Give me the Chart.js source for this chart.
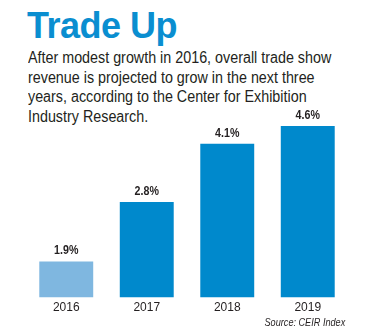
<!DOCTYPE html>
<html>
<head>
<meta charset="utf-8">
<script src="https://cdn.jsdelivr.net/npm/chart.js@4"></script>
<style>
  html, body { margin: 0; padding: 0; background: #fff; }
  body { width: 368px; height: 332px; position: relative; overflow: hidden; font-family: "Liberation Sans", sans-serif; }
  .title { position: absolute; left: 27px; top: 8px; font: bold 36px/36px "Liberation Sans", sans-serif; color: #0a8ed0; letter-spacing: -0.5px; }
  .dek { position: absolute; left: 28px; top: 48px; font-size: 16px; line-height: 19.5px; color: #231f20; white-space: nowrap; transform: scaleX(0.895); transform-origin: 0 0; }
  .source { position: absolute; right: 23px; top: 316px; font-size: 11px; font-style: italic; color: #231f20; transform: scaleX(0.83); transform-origin: 100% 0; }
  #chart-wrap { position: absolute; left: 0; top: 100px; width: 368px; height: 218px; }
</style>
</head>
<body>
<div class="title">Trade Up</div>
<div class="dek">After modest growth in 2016, overall trade show<br>revenue is projected to grow in the next three<br>years, according to the Center for Exhibition<br>Industry Research.</div>
<div id="chart-wrap"><canvas id="chart-trade"></canvas></div>
<div class="source">Source: CEIR Index</div>
<script>
const years = ['2016', '2017', '2018', '2019'];
const growth = [1.9, 2.8, 4.1, 4.6];
const barColors = ['#7fb7e0', '#0089cc', '#0089cc', '#0089cc'];

// percent labels sitting just above each bar, squeezed a little to look condensed
const valueLabels = {
  id: 'valueLabels',
  afterDatasetsDraw(chart) {
    const { ctx } = chart;
    const meta = chart.getDatasetMeta(0);
    meta.data.forEach((bar, i) => {
      ctx.save();
      ctx.translate(bar.x, bar.y - 4);
      ctx.scale(0.82, 1);
      ctx.font = 'bold 13px "Liberation Sans", sans-serif';
      ctx.fillStyle = '#231f20';
      ctx.textAlign = 'center';
      ctx.textBaseline = 'bottom';
      ctx.fillText(growth[i].toFixed(1) + '%', 0, 0);
      ctx.restore();
    });
  },
};

new Chart(document.getElementById('chart-trade'), {
  type: 'bar',
  data: {
    labels: years,
    datasets: [{
      data: growth,
      backgroundColor: barColors,
      categoryPercentage: 1,
      barPercentage: 0.67,
    }],
  },
  options: {
    responsive: true,
    maintainAspectRatio: false,
    animation: false,
    layout: { padding: { left: 26, right: 20, top: 10, bottom: 0 } },
    plugins: { legend: { display: false }, tooltip: { enabled: false } },
    scales: {
      x: {
        grid: { display: false, drawTicks: false },
        border: { display: false },
        ticks: { color: '#231f20', padding: 3, font: { size: 12, family: '"Liberation Sans", sans-serif' } },
      },
      y: { type: 'logarithmic', display: false, min: 1.5, max: 5.11 },
    },
  },
  plugins: [valueLabels],
});
</script>
</body>
</html>
